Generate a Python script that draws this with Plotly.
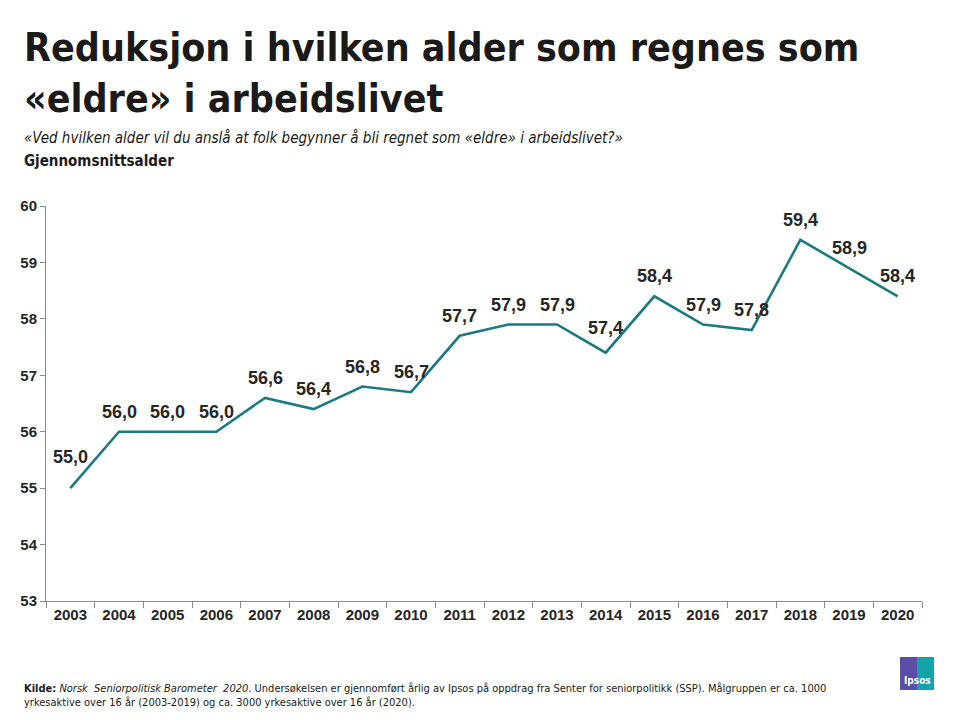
import plotly.graph_objects as go

years = ["2003", "2004", "2005", "2006", "2007", "2008", "2009", "2010", "2011",
         "2012", "2013", "2014", "2015", "2016", "2017", "2018", "2019", "2020"]
values = [55.0, 56.0, 56.0, 56.0, 56.6, 56.4, 56.8, 56.7, 57.7,
          57.9, 57.9, 57.4, 58.4, 57.9, 57.8, 59.4, 58.9, 58.4]
label_shift = [19, 8, 8, 8, 8, 8, 8, 8, 8,
               8, 8, 13, 8, 8, 8, 8, 8, 8]
labels = [f"{v:.1f}".replace(".", ",") for v in values]

LINE = "#1b7b80"
TXT = "#262626"
AX = "#8c8c8c"

fig = go.Figure()
fig.add_trace(go.Scatter(
    x=years, y=values, mode="lines",
    line=dict(color=LINE, width=2.6),
    hoverinfo="x+y", showlegend=False,
))

for i, (v, lab, s) in enumerate(zip(values, labels, label_shift)):
    fig.add_annotation(
        x=i, y=v, xref="x", yref="y",
        text="<b>" + lab + "</b>",
        showarrow=False, xanchor="center", yanchor="bottom", yshift=s,
        font=dict(family="Liberation Sans, Arial", size=18, color=TXT),
    )

fig.update_layout(
    width=960, height=720,
    margin=dict(l=46, r=38, t=206, b=119, autoexpand=False),
    paper_bgcolor="white", plot_bgcolor="white",
    font=dict(family="Liberation Sans, Arial", color=TXT),
    xaxis=dict(
        type="category", range=[-0.5, 17.5], automargin=False,
        showline=True, linecolor=AX, linewidth=1,
        ticks="outside", tickson="boundaries", ticklen=6, tickcolor=AX,
        showgrid=False, zeroline=False,
        tickfont=dict(family="Liberation Sans, Arial", size=15, color=TXT, weight="bold"),
    ),
    yaxis=dict(
        range=[53, 60], dtick=1, automargin=False,
        showline=True, linecolor=AX, linewidth=1,
        ticks="outside", ticklen=5, tickcolor=AX,
        showgrid=False, zeroline=False,
        tickfont=dict(family="Liberation Sans, Arial", size=15, color=TXT, weight="bold"),
    ),
)

TITLE_FONT = "DejaVu Sans Condensed, sans-serif"
fig.add_annotation(
    xref="paper", yref="paper", x=-0.027, y=1.0, xanchor="left", yanchor="top",
    yshift=183, align="left", showarrow=False,
    text="<b>Reduksjon i hvilken alder som regnes som<br>«eldre» i arbeidslivet</b>",
    font=dict(family=TITLE_FONT, size=39, color="#1a1a1a"),
)
fig.add_annotation(
    xref="paper", yref="paper", x=-0.027, y=1.0, xanchor="left", yanchor="top",
    yshift=79, align="left", showarrow=False,
    text="<i>«Ved hvilken alder vil du anslå at folk begynner å bli regnet som «eldre» i arbeidslivet?»</i>",
    font=dict(family=TITLE_FONT, size=15, color="#1a1a1a"),
)
fig.add_annotation(
    xref="paper", yref="paper", x=-0.027, y=1.0, xanchor="left", yanchor="top",
    yshift=56, align="left", showarrow=False,
    text="<b>Gjennomsnittsalder</b>",
    font=dict(family=TITLE_FONT, size=15, color="#1a1a1a"),
)
fig.add_annotation(
    xref="paper", yref="paper", x=-0.027, y=0.0, xanchor="left", yanchor="top",
    yshift=-79, align="left", showarrow=False,
    text=("<b>Kilde:</b> <i>Norsk  Seniorpolitisk Barometer  2020</i>. Undersøkelsen er gjennomført årlig av Ipsos på oppdrag fra Senter for seniorpolitikk (SSP). Målgruppen er ca. 1000"
          "<br>yrkesaktive over 16 år (2003-2019) og ca. 3000 yrkesaktive over 16 år (2020)."),
    font=dict(family=TITLE_FONT, size=11, color="#1a1a1a"),
)

# Ipsos logo
fig.add_shape(type="rect", xref="paper", yref="paper",
              x0=(900-46)/876, x1=(917-46)/876, y0=(601-690)/395, y1=(601-657)/395,
              line=dict(width=0), fillcolor="#5a4fa8", layer="below")
fig.add_shape(type="rect", xref="paper", yref="paper",
              x0=(917-46)/876, x1=(934-46)/876, y0=(601-690)/395, y1=(601-657)/395,
              line=dict(width=0), fillcolor="#13a3a8", layer="below")
fig.add_annotation(
    xref="paper", yref="paper", x=(917-46)/876, y=(601-680)/395,
    xanchor="center", yanchor="middle",
    text="<b>Ipsos</b>", showarrow=False,
    font=dict(family="DejaVu Sans Condensed, Arial", size=10, color="white"),
)

fig.write_html("out.html", config={"displayModeBar": False},
               post_script="document.body.style.margin='0';document.body.style.padding='0';")
